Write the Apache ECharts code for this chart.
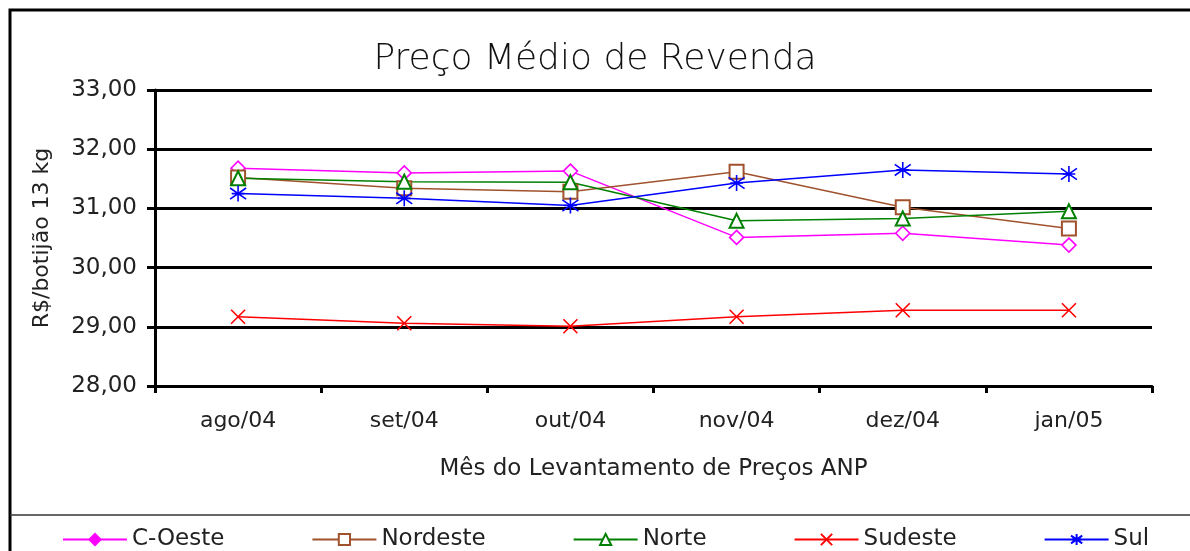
<!DOCTYPE html>
<html>
<head>
<meta charset="utf-8">
<script src="https://cdn.jsdelivr.net/npm/echarts@6/dist/echarts.min.js"></script>
<style>
  html, body { margin: 0; padding: 0; background: #fff; }
  #chart { width: 1190px; height: 551px; }
</style>
</head>
<body>
<div id="chart"></div>
<script>
// meses do levantamento
var meses = ['ago/04', 'set/04', 'out/04', 'nov/04', 'dez/04', 'jan/05']

// preço médio de revenda por região (R$/botijão 13 kg)
var cOeste   = [31.68, 31.60, 31.63, 30.51, 30.58, 30.38]
var nordeste = [31.52, 31.34, 31.28, 31.62, 31.02, 30.66]
var norte    = [31.51, 31.45, 31.44, 30.79, 30.83, 30.95]
var sudeste  = [29.17, 29.06, 29.01, 29.17, 29.28, 29.28]
var sul      = [31.25, 31.17, 31.05, 31.43, 31.65, 31.58]

var fonte = 'DejaVu Sans, sans-serif'
var xSymbol = 'path://M0,0L10,10M10,0L0,10'
var starSymbol = 'path://M5,0L5,10M0,1.5L10,8.5M10,1.5L0,8.5M1,5L9,5'

function serie (name, data, color, symbol, size, fill) {
    return {
        name: name,
        type: 'line',
        data: data,
        symbol: symbol,
        symbolSize: size,
        showAllSymbol: true,
        lineStyle: { color: color, width: 1.5 },
        itemStyle: {
            color: fill || color,
            borderColor: color,
            borderWidth: 1.6
        },
        emphasis: { disabled: true },
        z: 3
    }
}

var dom = echarts.init(document.getElementById('chart'))
var option = {
    animation: false,
    backgroundColor: '#fff',
    title: {
        text: 'Preço Médio de Revenda',
        left: 'center',
        top: 37,
        textStyle: { fontFamily: 'DejaVu Sans', fontSize: 36, fontWeight: 200, color: '#111' }
    },
    grid: { left: 155, right: 38, top: 90, bottom: 165 },
    legend: {
        left: 57,
        top: 523,
        itemWidth: 64,
        itemHeight: 14,
        itemGap: 87,
        textStyle: { fontFamily: fonte, fontSize: 23, color: '#222' },
        data: [
            { name: 'C-Oeste', itemStyle: { color: '#ff00ff', borderColor: '#ff00ff' } },
            { name: 'Nordeste' },
            { name: 'Norte' },
            { name: 'Sudeste' },
            { name: 'Sul' }
        ]
    },
    xAxis: {
        type: 'category',
        data: meses,
        boundaryGap: true,
        name: 'Mês do Levantamento de Preços ANP',
        nameLocation: 'middle',
        nameGap: 72,
        nameTextStyle: { fontFamily: fonte, fontSize: 23, color: '#222' },
        axisLine: { lineStyle: { color: '#000', width: 3 } },
        axisTick: { show: true, length: 7, lineStyle: { color: '#000', width: 3 } },
        axisLabel: { margin: 24, fontFamily: fonte, fontSize: 22, color: '#222' },
        splitLine: { show: false }
    },
    yAxis: {
        type: 'value',
        min: 28,
        max: 33,
        interval: 1,
        name: 'R$/botijão 13 kg',
        nameLocation: 'middle',
        nameGap: 102,
        nameRotate: 90,
        nameTextStyle: { fontFamily: fonte, fontSize: 22, color: '#222' },
        axisLine: { show: true, lineStyle: { color: '#000', width: 3 } },
        axisTick: { show: true, inside: false, length: 8, lineStyle: { color: '#000', width: 3 } },
        axisLabel: {
            margin: 18,
            fontFamily: fonte,
            fontSize: 23,
            color: '#222',
            formatter: function (v) { return v.toFixed(2).replace('.', ',') }
        },
        splitLine: { show: true, lineStyle: { color: '#000', width: 3 } }
    },
    graphic: [
        {
            type: 'rect',
            shape: { x: 10, y: 10, width: 1200, height: 560 },
            style: { fill: 'none', stroke: '#000', lineWidth: 3 },
            silent: true
        },
        {
            type: 'line',
            shape: { x1: 10, y1: 515, x2: 1190, y2: 515 },
            style: { stroke: '#333', lineWidth: 1.5 },
            silent: true
        }
    ],
    series: [
        serie('C-Oeste', cOeste, '#ff00ff', 'diamond', 14, '#fff'),
        serie('Nordeste', nordeste, '#a0522d', 'emptyRect', 14),
        serie('Norte', norte, '#008000', 'emptyTriangle', 14),
        serie('Sudeste', sudeste, '#ff0000', xSymbol, 14, 'rgba(0,0,0,0)'),
        serie('Sul', sul, '#0000ff', starSymbol, 16, 'rgba(0,0,0,0)')
    ]
}
dom.setOption(option)
window.addEventListener('resize', function () { dom.resize() })
</script>
</body>
</html>
